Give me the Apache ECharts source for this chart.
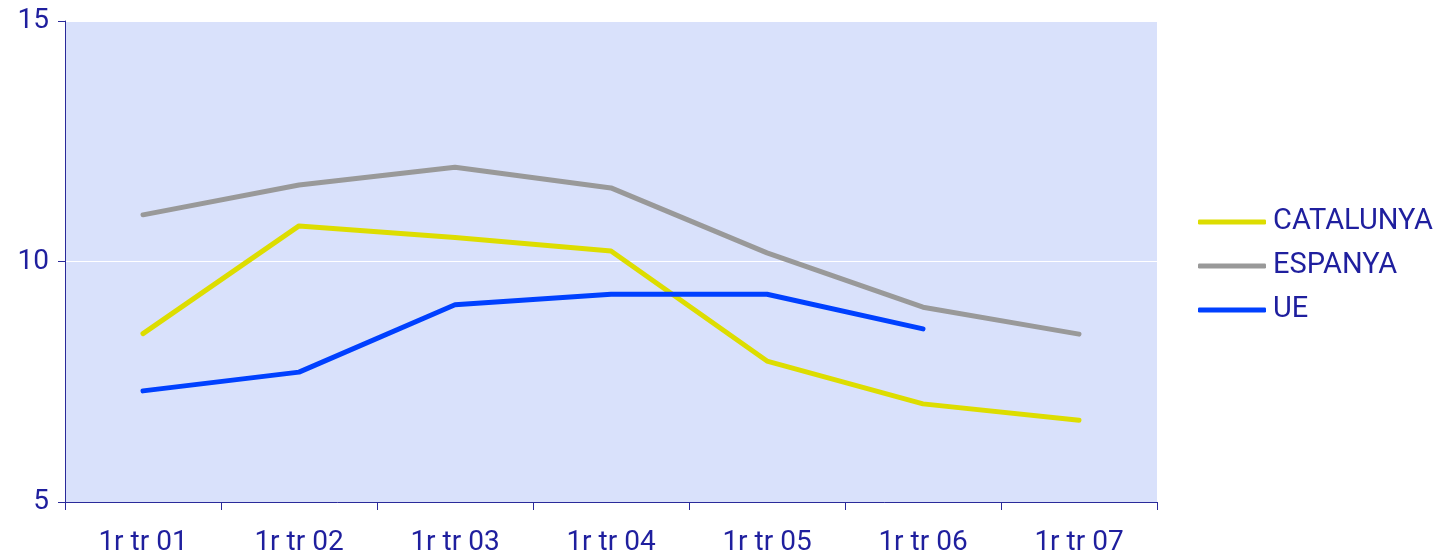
<!DOCTYPE html>
<html><head><meta charset="utf-8">
<script src="https://cdn.jsdelivr.net/npm/echarts@6/dist/echarts.min.js"></script>
<style>html,body{margin:0;padding:0;background:#fff}#c{width:1454px;height:560px}</style>
</head><body><div id="c"></div>
<script>
const categories = ['1r tr 01','1r tr 02','1r tr 03','1r tr 04','1r tr 05','1r tr 06','1r tr 07'];
const catalunya = [8.5, 10.74, 10.5, 10.22, 7.93, 7.04, 6.7];
const espanya = [10.97, 11.59, 11.96, 11.53, 10.18, 9.05, 8.49];
const ue = [7.31, 7.7, 9.1, 9.32, 9.32, 8.6, null];
const yTicks = [5, 10, 15];

const txt = '#1f1f9e';
const font = 'Roboto';
const chart = echarts.init(document.getElementById('c'));
function mk(name, data, color) {
  return { name, type: 'line', data, symbol: 'none', connectNulls: false,
    lineStyle: { color, width: 5, cap: 'round', join: 'round' }, itemStyle: { color } };
}
chart.setOption({
  animation: false,
  textStyle: { fontFamily: font },
  grid: { left: 65, right: 297, top: 21, bottom: 58, show: true, backgroundColor: '#D9E1FB', borderWidth: 0 },
  legend: {
    orient: 'vertical', left: 1198, top: 205, padding: 0, itemWidth: 68, itemHeight: 5, itemGap: 10,
    icon: 'roundRect',
    textStyle: { color: txt, fontSize: 29, fontFamily: font, lineHeight: 34, padding: [0,0,0,2] },
    data: ['CATALUNYA','ESPANYA','UE']
  },
  xAxis: {
    type: 'category', data: categories, boundaryGap: true,
    axisLine: { lineStyle: { color: '#2a2a9a', width: 1 } },
    axisTick: { show: true, length: 8, lineStyle: { color: '#2a2a9a' } },
    axisLabel: { color: txt, fontSize: 28, margin: 27, fontFamily: font },
    splitLine: { show: false }
  },
  yAxis: {
    type: 'value', min: yTicks[0], max: yTicks[yTicks.length-1], interval: 5,
    axisLine: { show: true, lineStyle: { color: '#2a2a9a', width: 1 } },
    axisTick: { show: true, length: 7, lineStyle: { color: '#2a2a9a' } },
    axisLabel: { color: txt, fontSize: 28, margin: 16, fontFamily: font },
    splitLine: { show: true, lineStyle: { color: '#ffffff', width: 1 } }
  },
  series: [mk('CATALUNYA', catalunya, '#DDDD00'), mk('ESPANYA', espanya, '#999999'), mk('UE', ue, '#0040FF')]
});
</script></body></html>
